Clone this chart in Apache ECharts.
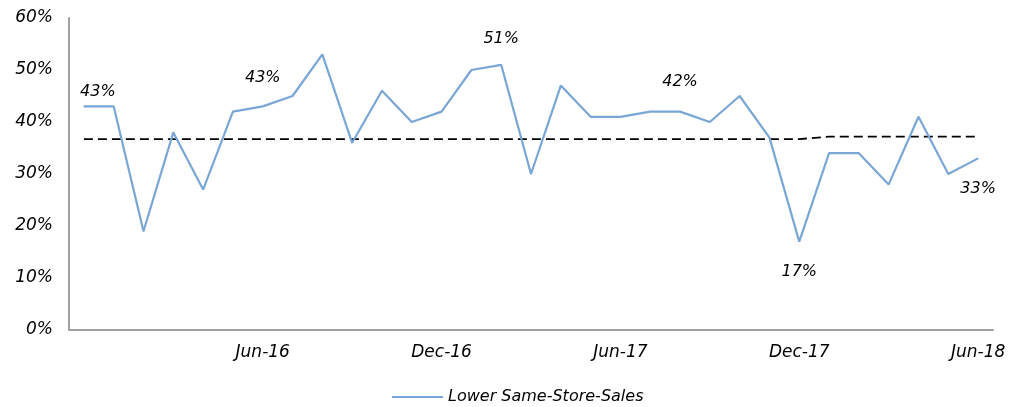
<!DOCTYPE html>
<html>
<head>
    <meta charset="utf-8">
    <title>Lower Same-Store-Sales</title>
    <script src="https://cdn.jsdelivr.net/npm/echarts@6/dist/echarts.min.js"></script>
    <style>
        html, body { margin: 0; padding: 0; background: #fff; }
        #chart { width: 1022px; height: 407px; }
    </style>
</head>
<body>
    <div id="chart"></div>
    <script>
        // monthly, Dec-15 .. Jun-18
        var months = ['Dec-15', 'Jan-16', 'Feb-16', 'Mar-16', 'Apr-16', 'May-16', 'Jun-16',
            'Jul-16', 'Aug-16', 'Sep-16', 'Oct-16', 'Nov-16', 'Dec-16',
            'Jan-17', 'Feb-17', 'Mar-17', 'Apr-17', 'May-17', 'Jun-17',
            'Jul-17', 'Aug-17', 'Sep-17', 'Oct-17', 'Nov-17', 'Dec-17',
            'Jan-18', 'Feb-18', 'Mar-18', 'Apr-18', 'May-18', 'Jun-18'];
        var lowerSSS = [43, 43, 19, 38, 27, 42, 43, 45, 53, 36, 46, 40, 42,
            50, 51, 30, 47, 41, 41, 42, 42, 40, 45, 37, 17,
            34, 34, 28, 41, 30, 33];
        var average = [36.7, 36.7, 36.7, 36.7, 36.7, 36.7, 36.7, 36.7, 36.7, 36.7, 36.7, 36.7, 36.7,
            36.7, 36.7, 36.7, 36.7, 36.7, 36.7, 36.7, 36.7, 36.7, 36.7, 36.7, 36.7,
            37.2, 37.2, 37.2, 37.2, 37.2, 37.2];

        // which points get a value label and where it sits
        var labelAt = {
            0: { position: 'top', distance: 6, offset: [14, 0] },
            6: { position: 'top', distance: 20 },
            14: { position: 'top', distance: 17 },
            20: { position: 'top', distance: 21 },
            24: { position: 'bottom', distance: 22 },
            30: { position: 'bottom', distance: 22 }
        };

        var font = { fontFamily: 'DejaVu Sans', fontStyle: 'italic', fontSize: 16, color: '#000' };
        var axisFont = Object.assign({}, font, { fontSize: 17 });
        var blue = '#7aa6d6';

        var lineData = lowerSSS.map(function (v, i) {
            var item = { value: v };
            if (labelAt[i]) {
                item.label = Object.assign({ show: true, formatter: '{c}%' }, font, labelAt[i]);
            }
            return item;
        });

        var chart = echarts.init(document.getElementById('chart'));
        chart.setOption({
            animation: false,
            grid: { left: 69, right: 29, top: 18, bottom: 77 },
            legend: {
                data: [{ name: 'Lower Same-Store-Sales', icon: 'rect' }],
                left: 387,
                top: 384,
                itemWidth: 51,
                itemHeight: 2,
                itemGap: 8,
                itemStyle: { color: blue, opacity: 1 },
                textStyle: font
            },
            xAxis: {
                type: 'category',
                data: months,
                boundaryGap: true,
                axisLine: { lineStyle: { color: '#a0a0a0', width: 2 } },
                axisTick: { show: false },
                axisLabel: Object.assign({
                    margin: 14,
                    interval: function (i) { return i > 0 && i % 6 === 0; }
                }, axisFont),
                splitLine: { show: false }
            },
            yAxis: {
                type: 'value',
                min: 0,
                max: 60,
                interval: 10,
                axisLine: { show: true, lineStyle: { color: '#a0a0a0', width: 2 } },
                axisTick: { show: false },
                axisLabel: Object.assign({ margin: 16, formatter: '{value}%' }, axisFont),
                splitLine: { show: false }
            },
            series: [
                {
                    name: 'Lower Same-Store-Sales',
                    type: 'line',
                    data: lineData,
                    symbol: 'circle',
                    symbolSize: 1,
                    showSymbol: true,
                    showAllSymbol: true,
                    lineStyle: { color: blue, width: 2.2 },
                    itemStyle: { color: blue },
                    z: 3
                },
                {
                    name: 'Average',
                    type: 'line',
                    data: average,
                    symbol: 'none',
                    lineStyle: { color: '#000', width: 1.8, type: [9, 5] },
                    itemStyle: { color: '#000' },
                    z: 2
                }
            ]
        });
    </script>
</body>
</html>
